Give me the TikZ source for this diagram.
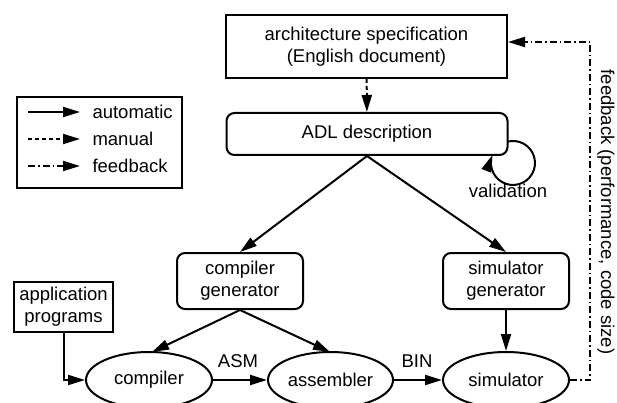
\documentclass[tikz,border=0pt]{standalone}
\usepackage{fontspec}
\setmainfont{Liberation Sans}
\usetikzlibrary{shapes.geometric,arrows.meta}
\tikzset{
  every node/.style={font=\fontsize{18.5}{22}\selectfont},
  box/.style={draw, line width=2pt, align=center, inner sep=0pt},
  rbox/.style={box, rounded corners=8pt},
  oval/.style={draw, ellipse, line width=2pt, inner sep=0pt,
               minimum width=126pt, minimum height=56pt},
  conn/.style={line width=2pt, -{Triangle[length=17pt,width=10pt]}},
  automatic/.style={conn},
  manual/.style={conn, dash pattern=on 4pt off 3pt},
  fback/.style={conn, dash pattern=on 7pt off 3pt on 1.5pt off 3pt},
}
\begin{document}
\begin{tikzpicture}[x=1pt,y=-1pt]
\useasboundingbox (0,0) rectangle (617,403);

% main flow
\node[box, minimum width=281pt, minimum height=63pt] (spec) at (366.5,46.5)
  {architecture specification\\(English document)};
\node[rbox, minimum width=281pt, minimum height=42pt] (adl) at (367,134)
  {ADL description};
\node[rbox, minimum width=126pt, minimum height=56pt] (cgen) at (240,281)
  {compiler\\generator};
\node[rbox, minimum width=126pt, minimum height=56pt] (sgen) at (506,281)
  {simulator\\generator};
\node[box, minimum width=99pt, minimum height=50pt] (app) at (63.5,307)
  {application\\programs};
\node[oval] (comp) at (149,380) {compiler};
\node[oval, minimum width=125pt] (asm) at (330.5,380) {assembler};
\node[oval] (sim) at (506,380) {simulator};

\node (asmlbl) at (238,361) {ASM};
\node (binlbl) at (417,361) {BIN};
\node (vallbl) at (508,191) {validation};

\draw[manual] (spec) -- (adl);
\draw[automatic] (adl.south) -- (cgen.north);
\draw[automatic] (adl.south) -- (sgen.north);
\coordinate (ctop) at (152,352);
\coordinate (atop) at (330,352);
\draw[automatic] (cgen.south) -- (ctop);
\draw[automatic] (cgen.south) -- (atop);
\draw[automatic] (sgen) -- (sim);
\draw[automatic] (app.south) |- (comp.west);
\draw[automatic] (comp) -- (asm);
\draw[automatic] (asm) -- (sim);

% validation loop on the ADL description
\coordinate (vs) at (507,141.8);
\draw[automatic] (vs) arc[start angle=-105.8, end angle=201.3, radius=22];

% feedback path
\coordinate (fb1) at (590,380);
\coordinate (fb2) at (590,42);
\draw[fback] (sim.east) -- (fb1) -- (fb2) -- (fb2 -| spec.east);
\node[rotate=-90] (fblbl) at (606,212) {feedback (performance, code size)};

% legend
\node[box, minimum width=165pt, minimum height=91pt] (legend) at (99.5,142.5) {};
\coordinate (l1a) at (28,112); \coordinate (l1b) at (80,112);
\coordinate (l2a) at (28,139); \coordinate (l2b) at (80,139);
\coordinate (l3a) at (28,166); \coordinate (l3b) at (80,166);
\draw[automatic] (l1a) -- (l1b);
\draw[manual] (l2a) -- (l2b);
\draw[fback] (l3a) -- (l3b);
\node[anchor=west] (t1) at (89,112) {automatic};
\node[anchor=west] (t2) at (89,139) {manual};
\node[anchor=west] (t3) at (89,166) {feedback};
\end{tikzpicture}
\end{document}
